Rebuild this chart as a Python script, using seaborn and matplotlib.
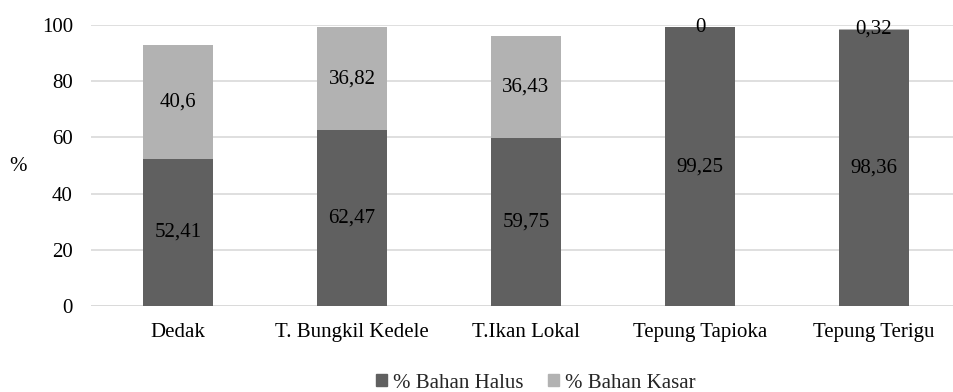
import matplotlib
matplotlib.use("Agg")
import matplotlib.pyplot as plt
import seaborn as sns
import pandas as pd
from matplotlib.patches import Patch

categories = ["Dedak", "T. Bungkil Kedele", "T.Ikan Lokal", "Tepung Tapioka", "Tepung Terigu"]
halus = [52.41, 62.47, 59.75, 99.25, 98.36]
kasar = [40.6, 36.82, 36.43, 0, 0.32]
halus_labels = ["52,41", "62,47", "59,75", "99,25", "98,36"]
kasar_labels = ["40,6", "36,82", "36,43", "0", "0,32"]

DARK = "#606060"
LIGHT = "#b2b2b2"
FS = 15

sns.set_theme(style="white")
plt.rcParams["font.family"] = ["Liberation Serif", "DejaVu Serif"]

df = pd.DataFrame({"kategori": categories, "halus": halus, "kasar": kasar})
df["total"] = df["halus"] + df["kasar"]

fig = plt.figure(figsize=(9.54, 3.92), dpi=100)
ax = fig.add_axes([91 / 954, 1 - 306 / 392, (961 - 91) / 954, (306 - 25) / 392])

sns.barplot(data=df, x="kategori", y="total", color=LIGHT, width=0.4,
            saturation=1, linewidth=0, ax=ax, zorder=2)
sns.barplot(data=df, x="kategori", y="halus", color=DARK, width=0.4,
            saturation=1, linewidth=0, ax=ax, zorder=3)

ax.set_ylim(0, 100)
ax.set_xlim(-0.5, 4.5)
ax.set_yticks([0, 20, 40, 60, 80, 100])
ax.yaxis.grid(True, color="#d9d9d9", linewidth=1.2, zorder=0)
ax.set_axisbelow(True)
for s in ax.spines.values():
    s.set_visible(False)
ax.axhline(0, color="#d9d9d9", linewidth=1.2, zorder=1)
ax.tick_params(axis="both", length=0, labelsize=FS, colors="#000000")
ax.tick_params(axis="y", pad=13)
ax.tick_params(axis="x", pad=12)
ax.set_xlabel("")
ax.set_ylabel("")
fig.text(18 / 954, 1 - 167 / 392, "%", fontsize=FS, ha="center", va="center", color="black")

for i in range(len(categories)):
    ax.text(i, halus[i] / 2, halus_labels[i], ha="center", va="center",
            fontsize=FS, color="black", zorder=5)
    ax.text(i, halus[i] + kasar[i] / 2, kasar_labels[i], ha="center", va="center",
            fontsize=FS, color="black", zorder=5)

handles = [Patch(facecolor=DARK, edgecolor=DARK, label="% Bahan Halus"),
           Patch(facecolor=LIGHT, edgecolor=LIGHT, label="% Bahan Kasar")]
fig.legend(handles=handles, loc="center", bbox_to_anchor=(536 / 954, 1 - 383 / 392),
           ncol=2, frameon=False, fontsize=FS, handlelength=0.5, handleheight=0.5,
           handletextpad=0.3, columnspacing=1.2, borderpad=0)

fig.savefig("out.png", dpi=100)
